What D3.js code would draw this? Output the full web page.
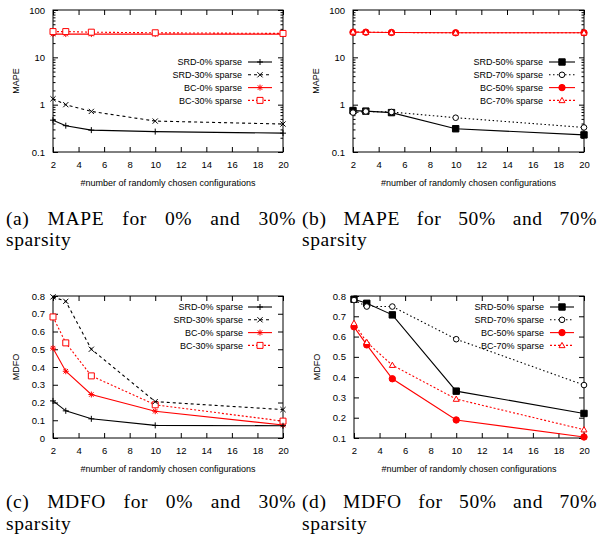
<!DOCTYPE html>
<html>
<head>
<meta charset="utf-8">
<script src="https://cdn.jsdelivr.net/npm/d3@7"></script>
<style>
  body { margin: 0; background: #fff; }
  svg { display: block; }
  text.tk { font-family: "Liberation Sans", Arial, sans-serif; font-size: 9px; fill: #000; }
  text.cap { font-family: "Liberation Serif", "Times New Roman", serif; font-size: 19.5px; letter-spacing: 0.6px; fill: #000; }
</style>
</head>
<body>
<div id="chart"></div>
<script>
// x values shared by every series
const configCounts = [2, 3, 5, 10, 20];

// (a) MAPE, 0% and 30% sparsity
const mapeSrd0 = [0.47, 0.36, 0.29, 0.27, 0.25];
const mapeSrd30 = [1.33, 1.0, 0.72, 0.45, 0.39];
const mapeBc0 = [31, 31, 31, 31, 31];
const mapeBc30 = [35, 35, 34, 33, 32];

// (b) MAPE, 50% and 70% sparsity
const mapeSrd50 = [0.75, 0.73, 0.68, 0.31, 0.23];
const mapeSrd70 = [0.68, 0.72, 0.70, 0.53, 0.33];
const mapeBc50 = [34, 34, 33.5, 33, 33];
const mapeBc70 = [34.5, 34, 33.5, 33, 33];

// (c) MDFO, 0% and 30% sparsity
const mdfoSrd0 = [0.209, 0.153, 0.108, 0.071, 0.069];
const mdfoSrd30 = [0.795, 0.77, 0.50, 0.205, 0.16];
const mdfoBc0 = [0.506, 0.376, 0.245, 0.151, 0.073];
const mdfoBc30 = [0.682, 0.536, 0.35, 0.187, 0.095];

// (d) MDFO, 50% and 70% sparsity
const mdfoSrd50 = [0.784, 0.764, 0.707, 0.331, 0.221];
const mdfoSrd70 = [0.78, 0.748, 0.748, 0.587, 0.361];
const mdfoBc50 = [0.648, 0.559, 0.392, 0.189, 0.105];
const mdfoBc70 = [0.666, 0.572, 0.459, 0.292, 0.141];

const xTicks = [2, 4, 6, 8, 10, 12, 14, 16, 18, 20];
const mapeTicks = [0.1, 1, 10, 100];
const mdfoTicksLow = [0, 0.1, 0.2, 0.3, 0.4, 0.5, 0.6, 0.7, 0.8];
const mdfoTicksHigh = [0.1, 0.2, 0.3, 0.4, 0.5, 0.6, 0.7, 0.8];

const xTitle = "#number of randomly chosen configurations";

const RED = "#ff0000";

// marker paths
function markerPath(kind, s) {
  switch (kind) {
    case "plus": return `M${-s},0H${s}M0,${-s}V${s}`;
    case "cross": return `M${-s},${-s}L${s},${s}M${-s},${s}L${s},${-s}`;
    case "star": return `M${-s},0H${s}M0,${-s}V${s}M${-s*0.75},${-s*0.75}L${s*0.75},${s*0.75}M${-s*0.75},${s*0.75}L${s*0.75},${-s*0.75}`;
    case "square": return `M${-s},${-s}H${s}V${s}H${-s}Z`;
    case "circle": return `M${s},0A${s},${s} 0 1,1 ${-s},0A${s},${s} 0 1,1 ${s},0Z`;
    case "triangle": return `M0,${-s}L${s},${s*0.75}H${-s}Z`;
  }
}
const markerStyle = {
  plus: { size: 3, fill: "none" },
  cross: { size: 2.6, fill: "none" },
  star: { size: 3, fill: "none" },
  square: { size: 3, fill: "#fff" },
  squareFill: { size: 3.2, fill: "cur" },
  circle: { size: 2.8, fill: "#fff" },
  circleFill: { size: 3.2, fill: "cur" },
  triangle: { size: 3, fill: "#fff" }
};

const panels = [
  {
    left: 53, right: 283, top: 10, bottom: 152, log: true,
    domain: [0.1, 100], yTicks: mapeTicks, yTitle: "MAPE",
    legendY: 62, legendTextX: 242, legendLine: [248, 272],
    caption: ["(a) MAPE for 0% and 30%", "sparsity"], capX: 6, capW: 290, capY: 224.5,
    series: [
      { name: "SRD-0% sparse", values: mapeSrd0, color: "#000", dash: null, marker: "plus" },
      { name: "SRD-30% sparse", values: mapeSrd30, color: "#000", dash: "3,3", marker: "cross" },
      { name: "BC-0% sparse", values: mapeBc0, color: RED, dash: null, marker: "star" },
      { name: "BC-30% sparse", values: mapeBc30, color: RED, dash: "2,2", marker: "square" }
    ]
  },
  {
    left: 353, right: 584, top: 10, bottom: 152, log: true,
    domain: [0.1, 100], yTicks: mapeTicks, yTitle: "MAPE",
    legendY: 62, legendTextX: 543, legendLine: [549, 575],
    caption: ["(b) MAPE for 50% and 70%", "sparsity"], capX: 302, capW: 295, capY: 224.5,
    series: [
      { name: "SRD-50% sparse", values: mapeSrd50, color: "#000", dash: null, marker: "squareFill" },
      { name: "SRD-70% sparse", values: mapeSrd70, color: "#000", dash: "1.5,2.5", marker: "circle" },
      { name: "BC-50% sparse", values: mapeBc50, color: RED, dash: null, marker: "circleFill" },
      { name: "BC-70% sparse", values: mapeBc70, color: RED, dash: "2,2", marker: "triangle" }
    ]
  },
  {
    left: 53, right: 283, top: 296, bottom: 438, log: false,
    domain: [0, 0.8], yTicks: mdfoTicksLow, yTitle: "MDFO",
    legendY: 307, legendTextX: 243, legendLine: [248, 272],
    caption: ["(c) MDFO for 0% and 30%", "sparsity"], capX: 6, capW: 290, capY: 508,
    series: [
      { name: "SRD-0% sparse", values: mdfoSrd0, color: "#000", dash: null, marker: "plus" },
      { name: "SRD-30% sparse", values: mdfoSrd30, color: "#000", dash: "3,3", marker: "cross" },
      { name: "BC-0% sparse", values: mdfoBc0, color: RED, dash: null, marker: "star" },
      { name: "BC-30% sparse", values: mdfoBc30, color: RED, dash: "2,2", marker: "square" }
    ]
  },
  {
    left: 354, right: 584, top: 296, bottom: 438, log: false,
    domain: [0.1, 0.8], yTicks: mdfoTicksHigh, yTitle: "MDFO",
    legendY: 307, legendTextX: 544, legendLine: [550, 574],
    caption: ["(d) MDFO for 50% and 70%", "sparsity"], capX: 302, capW: 295, capY: 508,
    series: [
      { name: "SRD-50% sparse", values: mdfoSrd50, color: "#000", dash: null, marker: "squareFill" },
      { name: "SRD-70% sparse", values: mdfoSrd70, color: "#000", dash: "1.5,2.5", marker: "circle" },
      { name: "BC-50% sparse", values: mdfoBc50, color: RED, dash: null, marker: "circleFill" },
      { name: "BC-70% sparse", values: mdfoBc70, color: RED, dash: "2,2", marker: "triangle" }
    ]
  }
];

const svg = d3.select("#chart").append("svg")
  .attr("width", 598)
  .attr("height", 540);

function drawMarker(g, kind, cx, cy, color) {
  const st = markerStyle[kind];
  const base = kind.replace("Fill", "");
  g.append("path")
    .attr("transform", `translate(${cx},${cy})`)
    .attr("d", markerPath(base, st.size))
    .attr("fill", st.fill === "cur" ? color : st.fill)
    .attr("stroke", color)
    .attr("stroke-width", 1);
}

panels.forEach(p => {
  const g = svg.append("g");
  const x = d3.scaleLinear().domain([2, 20]).range([p.left, p.right]);
  const y = (p.log ? d3.scaleLog() : d3.scaleLinear()).domain(p.domain).range([p.bottom, p.top]);
  const w = p.right - p.left;
  const h = p.bottom - p.top;

  // ticks pointing inward on all four sides (gnuplot style)
  g.append("g").attr("transform", `translate(0,${p.bottom})`)
    .call(d3.axisBottom(x).tickValues(xTicks).tickSize(-5).tickPadding(9).tickFormat(d3.format("d")));
  g.append("g").attr("transform", `translate(0,${p.top})`)
    .call(d3.axisTop(x).tickValues(xTicks).tickSize(-5).tickFormat(""));
  g.append("g").attr("transform", `translate(${p.left},0)`)
    .call(d3.axisLeft(y).tickValues(p.yTicks).tickSize(-5).tickPadding(8).tickFormat(d => String(+d.toFixed(2))));
  g.append("g").attr("transform", `translate(${p.right},0)`)
    .call(d3.axisRight(y).tickValues(p.yTicks).tickSize(-5).tickFormat(""));

  if (p.log) {
    const minor = [];
    for (let dec = 0.1; dec < 100; dec *= 10) {
      for (let k = 2; k <= 9; k++) minor.push(dec * k);
    }
    g.append("g").attr("transform", `translate(${p.left},0)`)
      .call(d3.axisLeft(y).tickValues(minor).tickSize(-2.5).tickFormat(""));
    g.append("g").attr("transform", `translate(${p.right},0)`)
      .call(d3.axisRight(y).tickValues(minor).tickSize(-2.5).tickFormat(""));
  }

  g.selectAll(".domain").remove();
  g.selectAll(".tick line").attr("stroke", "#000").attr("stroke-width", 1);
  g.selectAll(".tick text").attr("class", "tk").attr("fill", "#000")
    .style("font-family", "Liberation Sans, Arial, sans-serif").style("font-size", "9.5px");

  // frame
  g.append("rect")
    .attr("x", p.left).attr("y", p.top)
    .attr("width", w).attr("height", h)
    .attr("fill", "none").attr("stroke", "#000").attr("stroke-width", 1);

  // axis titles
  g.append("text").attr("class", "tk")
    .attr("x", (p.left + p.right) / 2).attr("y", p.bottom + 34)
    .attr("text-anchor", "middle").text(xTitle);
  g.append("text").attr("class", "tk")
    .attr("transform", `translate(${p.left - 34},${(p.top + p.bottom) / 2}) rotate(-90)`)
    .attr("text-anchor", "middle").text(p.yTitle);

  const line = d3.line().x((d, i) => x(configCounts[i])).y(d => y(d));

  // red series first, black on top
  const order = [2, 3, 0, 1];
  order.forEach(si => {
    const s = p.series[si];
    g.append("path")
      .datum(s.values)
      .attr("fill", "none")
      .attr("stroke", s.color)
      .attr("stroke-width", 1.1)
      .attr("stroke-dasharray", s.dash)
      .attr("d", line);
    s.values.forEach((v, i) => drawMarker(g, s.marker, x(configCounts[i]), y(v), s.color));
  });

  // legend
  p.series.forEach((s, i) => {
    const ly = p.legendY + i * 12.8;
    g.append("text").attr("class", "tk")
      .attr("x", p.legendTextX).attr("y", ly + 3.2)
      .attr("text-anchor", "end").text(s.name);
    g.append("line")
      .attr("x1", p.legendLine[0]).attr("x2", p.legendLine[1])
      .attr("y1", ly).attr("y2", ly)
      .attr("stroke", s.color).attr("stroke-width", 1.1)
      .attr("stroke-dasharray", s.dash);
    drawMarker(g, s.marker, (p.legendLine[0] + p.legendLine[1]) / 2, ly, s.color);
  });

  // caption: first line justified by widening the word gaps
  const c1 = g.append("text").attr("class", "cap")
    .attr("x", p.capX).attr("y", p.capY)
    .text(p.caption[0]);
  const natural = c1.node().getComputedTextLength();
  const gaps = p.caption[0].split(" ").length - 1;
  c1.attr("word-spacing", Math.max(0, (p.capW - natural) / gaps));
  g.append("text").attr("class", "cap")
    .attr("x", p.capX).attr("y", p.capY + 21.5)
    .text(p.caption[1]);
});
</script>
</body>
</html>
